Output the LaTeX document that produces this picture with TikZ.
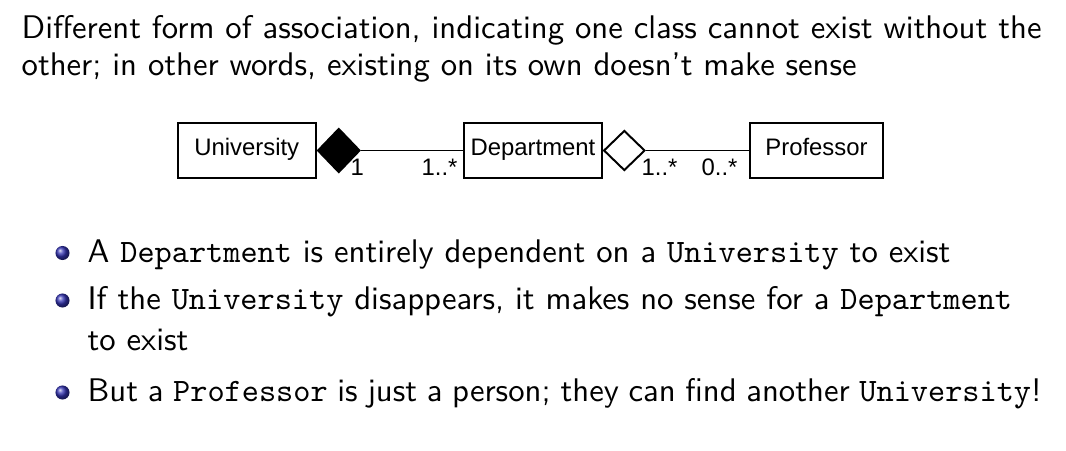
\documentclass[tikz,border=0pt]{standalone}
\usepackage{fontspec}
\newfontfamily\umlfont{Liberation Sans}
\usetikzlibrary{shapes.geometric}
\definecolor{beamerblue}{rgb}{0.2,0.2,0.7}
\begin{document}
\begin{tikzpicture}[x=0.3058pt,y=-0.3058pt,
  txt/.style={anchor=base west, inner sep=0pt, font=\fontsize{10pt}{12pt}\selectfont\sffamily},
  cls/.style={draw, line width=0.6pt, inner sep=0pt, minimum height=16.64pt, text height=5.26pt, text depth=2.2pt, font=\fontsize{7.3pt}{8.8pt}\selectfont\umlfont},
  mult/.style={anchor=base west, inner sep=0pt, font=\fontsize{7.3pt}{8.8pt}\selectfont\umlfont},
  dmd/.style={diamond, draw, line width=0.6pt, inner sep=0pt, anchor=west},
  assoc/.style={draw, line width=0.6pt},
  bul/.style={circle, shading=ball, ball color=beamerblue, minimum size=4.3pt, inner sep=0pt, outer sep=0pt}]
\fill[white] (0,0) rectangle (1066,450);
\useasboundingbox (0,0) rectangle (1066,450);
% intro paragraph
\node[txt] (l1) at (21,38.3) {Different form of association, indicating one class cannot exist without the};
\node[txt] (l2) at (21,75.3) {other; in other words, existing on its own doesn't make sense};
% UML diagram
\node[cls, minimum width=42.11pt] (univ) at (246.8,150.5) {University};
\node[cls, minimum width=42.02pt] (dept) at (533,150.5) {Department};
\node[cls, minimum width=40.67pt] (prof) at (816.5,150.5) {Professor};
\node[dmd, fill=black, minimum width=12.94pt, minimum height=13.45pt] (comp) at (univ.east) {};
\node[dmd, fill=white, minimum width=12.63pt, minimum height=12.23pt] (aggr) at (dept.east) {};
\path[assoc] (comp.east) -- (dept.west);
\path[assoc] (aggr.east) -- (prof.west);
\node[mult] (m1) at (350,175) {1};
\node[mult] (m2) at (421,175) {1..*};
\node[mult] (m3) at (641,175) {1..*};
\node[mult] (m4) at (701,175) {0..*};
% bullets
\node[bul] (b1) at (62.5,253) {};
\node[txt] (t1) at (87,262) {A \texttt{Department} is entirely dependent on a \texttt{University} to exist};
\node[bul] (b2) at (62.5,300.5) {};
\node[txt] (t2) at (87,309.5) {If the \texttt{University} disappears, it makes no sense for a \texttt{Department}};
\node[txt] (t2b) at (87,350.5) {to exist};
\node[bul] (b3) at (62.5,392.5) {};
\node[txt] (t3) at (87,401.7) {\hbox to 291.7pt{But a \texttt{Professor} is just a person; they can find another \texttt{University}!}};
\end{tikzpicture}
\end{document}
